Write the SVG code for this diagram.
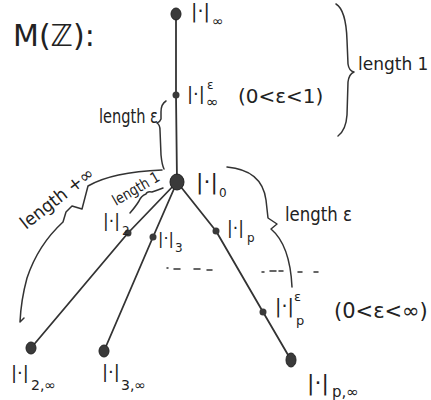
<svg xmlns="http://www.w3.org/2000/svg" width="431" height="400" viewBox="0 0 431 400">
<style>
.t{font-family:"DejaVu Sans",sans-serif;fill:#222;}
.e{fill:none;stroke:#333;stroke-width:1.8;stroke-linecap:round;stroke-linejoin:round;}
.b{fill:none;stroke:#333;stroke-width:1.5;stroke-linecap:round;stroke-linejoin:round;}
.big{fill:#3a3a3a;stroke:#222;stroke-width:1;}
.sm{fill:#3a3a3a;}
</style>
<rect width="431" height="400" fill="#fff"/>
<text class="t" x="13" y="46" font-size="30">M(ℤ):</text>
<g id="connectors">
<path class="e" d="M176,14 L176,95 L177,182"/>
<path class="e" d="M177,182 L128,233 L31,348"/>
<path class="e" d="M177,182 L153,237 L104,351"/>
<path class="e" d="M177,182 L216,231 L263,312 L291,360"/>
</g>
<g id="braces">
<path class="b" d="M336,4 Q346,10 347,40 L348,64 Q349,71 354,72 Q349,74 348,82 L347,115 Q346,130 338,136"/>
<path class="b" d="M166,101 Q161,104 161,112 L161,119 Q160,122 157,123 Q160,125 160,130 L161,155 Q162,165 164,169"/>
<path class="b" d="M130,213 Q136,206 139,201 Q141,196 146,194 Q147,191 152,192 Q158,190 163,188"/>
<path class="b" d="M162,170 Q112,172 88,186 L82,209 L72,206 L66,212 L63,222 Q38,245 27,278 Q21,300 20,322 L24,318"/>
<path class="b" d="M227,167 Q262,170 266,200 L268,218 L277,224 L271,229 Q290,245 292,287"/>
</g>
<g id="dashes" class="b">
<path d="M167,268 L168,268 M174,269 L180,269 M194,269 L200,269 M207,270 L212,270"/>
<path d="M262,272 L264,272 M270,271 L276,271 M279,271 L283,271 M298,272 L302,272 M314,272 L318,272"/>
</g>
<g id="n-inf">
<ellipse class="big" cx="176" cy="14" rx="5" ry="6"/>
<text class="t" x="191" y="18" font-size="19">|·|<tspan x="212" y="26" font-size="14">∞</tspan></text>
</g>
<g id="n-inf-eps">
<circle class="sm" cx="176" cy="95" r="3.5"/>
<text class="t" x="187" y="100" font-size="18">|·|<tspan x="207" y="89" font-size="12">ε</tspan><tspan x="206" y="107" font-size="15">∞</tspan><tspan x="238" y="103" font-size="20">(0&lt;ε&lt;1)</tspan></text>
</g>
<g id="n-0">
<ellipse class="big" cx="177" cy="182" rx="7" ry="8"/>
<text class="t" x="196" y="189" font-size="22">|·|<tspan x="219" y="197" font-size="12">0</tspan></text>
</g>
<g id="n-2">
<circle class="sm" cx="128" cy="233" r="3.5"/>
<text class="t" x="103" y="227" font-size="17">|·|<tspan x="122" y="235" font-size="12">2</tspan></text>
</g>
<g id="n-3">
<circle class="sm" cx="153" cy="237" r="3.5"/>
<text class="t" x="158" y="244" font-size="16">|·|<tspan x="175" y="252" font-size="12">3</tspan></text>
</g>
<g id="n-p">
<circle class="sm" cx="216" cy="231" r="3.5"/>
<text class="t" x="227" y="234" font-size="17">|·|<tspan x="247" y="242" font-size="12">p</tspan></text>
</g>
<g id="n-p-eps">
<circle class="sm" cx="263" cy="312" r="3.5"/>
<text class="t" x="275" y="313" font-size="19">|·|<tspan x="294" y="301" font-size="13">ε</tspan><tspan x="296" y="325" font-size="13">p</tspan><tspan x="334" y="318" font-size="21">(0&lt;ε&lt;∞)</tspan></text>
</g>
<g id="n-2-inf">
<ellipse class="big" cx="31" cy="348" rx="5" ry="6"/>
<text class="t" x="11" y="379" font-size="18">|·|<tspan x="31" y="390" font-size="14">2,∞</tspan></text>
</g>
<g id="n-3-inf">
<ellipse class="big" cx="104" cy="351" rx="5" ry="6"/>
<text class="t" x="102" y="378" font-size="18">|·|<tspan x="121" y="390" font-size="14">3,∞</tspan></text>
</g>
<g id="n-p-inf">
<ellipse class="big" cx="291" cy="360" rx="5" ry="7"/>
<text class="t" x="307" y="390" font-size="22">|·|<tspan x="332" y="397" font-size="15">p,∞</tspan></text>
</g>
<g id="labels">
<text class="t" x="358" y="70" font-size="17">length 1</text>
<text class="t" x="99" y="123" font-size="20" textLength="59" lengthAdjust="spacingAndGlyphs">length ε</text>
<text class="t" x="285" y="221" font-size="20" textLength="67" lengthAdjust="spacingAndGlyphs">length ε</text>
<text class="t" x="116" y="206" font-size="15" textLength="52" lengthAdjust="spacingAndGlyphs" transform="rotate(-30 116 206)">length 1</text>
<text class="t" x="26" y="230" font-size="18" textLength="88" lengthAdjust="spacingAndGlyphs" transform="rotate(-38 26 230)">length +∞</text>
</g>
</svg>
